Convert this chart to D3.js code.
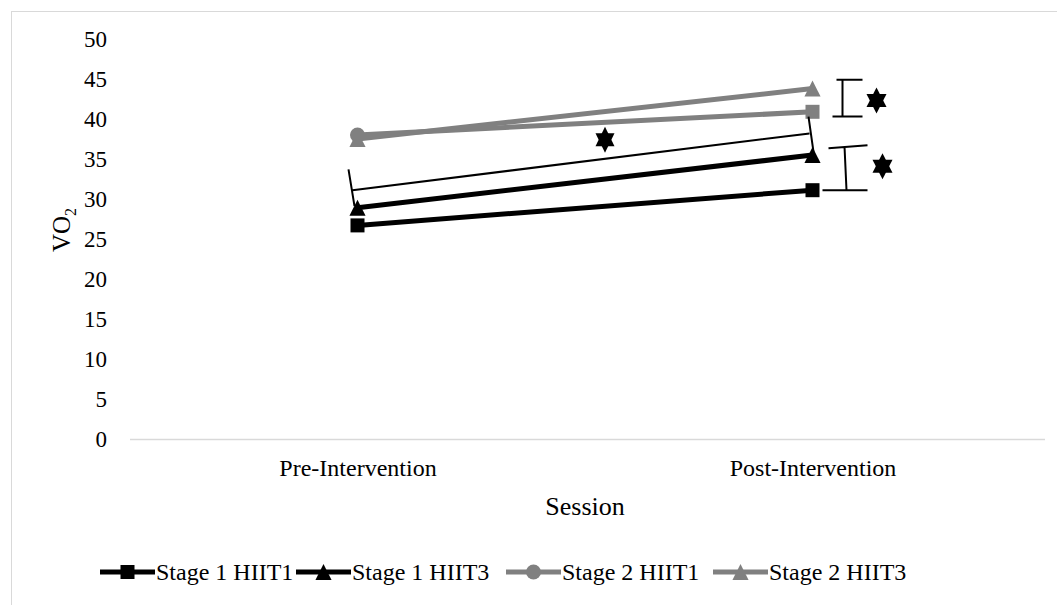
<!DOCTYPE html>
<html>
<head>
<meta charset="utf-8">
<script src="https://cdn.jsdelivr.net/npm/d3@7"></script>
<style>
  html, body { margin: 0; padding: 0; background: #fff; }
  svg { display: block; }
  svg text { font-family: "Liberation Serif", "Times New Roman", "DejaVu Serif", serif; }
</style>
</head>
<body>
<svg id="chart" width="1057" height="605"></svg>
<script>
// Sessions on the x axis
const sessions = ["Pre-Intervention", "Post-Intervention"];

// VO2 per series, one value per session
const stage1Hiit1 = [26.7, 31.1];
const stage1Hiit3 = [28.9, 35.5];
const stage2Hiit1 = [38.0, 40.9];
const stage2Hiit3 = [37.5, 43.8];

const seriesNames = ["Stage 1 HIIT1", "Stage 1 HIIT3", "Stage 2 HIIT1", "Stage 2 HIIT3"];
const seriesColors = ["#000000", "#000000", "#808080", "#808080"];
// marker shape at each session point
const seriesMarkers = [
  ["square", "square"],
  ["triangle", "triangle"],
  ["circle", "square"],
  ["triangle", "triangle"]
];

const yTicks = [0, 5, 10, 15, 20, 25, 30, 35, 40, 45, 50];

// significance bracket between stage 1 and stage 2 (VO2 units)
const preLeg = [33.7, 29.1];    // top, bottom of the left leg
const postLeg = [40.3, 35.9];   // top, bottom of the right leg
const spanLine = [31.1, 38.2];  // connecting line at pre and post
// pre/post difference brackets at the right
const rightBrackets = [[44.9, 40.3], [36.6, 31.1]];
// star positions: [x offset from post, VO2]
const starMid = 37.4;
const starsRight = [[64, 42.3], [70, 34.1]];

const series = seriesNames.map((name, i) => ({
  name,
  color: seriesColors[i],
  markers: seriesMarkers[i],
  values: [stage1Hiit1, stage1Hiit3, stage2Hiit1, stage2Hiit3][i]
}));

const svg = d3.select("#chart");
const W = 1057, H = 605;

// chart frame
svg.append("rect")
  .attr("x", 11.5).attr("y", 11.5)
  .attr("width", W + 20).attr("height", H + 20)
  .attr("fill", "none").attr("stroke", "#d9d9d9").attr("stroke-width", 1);

const plot = { left: 130, right: 1040, top: 39, bottom: 439 };

const x = d3.scalePoint().domain(sessions).range([plot.left, plot.right]).padding(0.5);
const y = d3.scaleLinear().domain([0, 50]).range([plot.bottom, plot.top]);

// y axis labels
const yAxis = svg.append("g")
  .attr("transform", `translate(${plot.left},0)`)
  .call(d3.axisLeft(y).tickValues(yTicks).tickSize(0).tickPadding(23));
yAxis.attr("font-family", null);
yAxis.select(".domain").remove();
yAxis.selectAll("text").attr("font-size", 23).attr("fill", "#000");

// x axis baseline and category labels
const xAxis = svg.append("g")
  .attr("transform", `translate(0,${plot.bottom})`)
  .call(d3.axisBottom(x).tickSize(0).tickPadding(20));
xAxis.attr("font-family", null);
xAxis.select(".domain")
  .attr("d", `M${plot.left},0.5H${plot.right + 5}`)
  .attr("stroke", "#d9d9d9").attr("stroke-width", 1.3);
xAxis.selectAll("text").attr("font-size", 24).attr("fill", "#000");

// axis titles
svg.append("text")
  .attr("x", 585).attr("y", 515)
  .attr("text-anchor", "middle").attr("font-size", 26)
  .text("Session");

const yTitle = svg.append("text")
  .attr("transform", `translate(70,230) rotate(-90)`)
  .attr("text-anchor", "middle").attr("font-size", 25);
yTitle.append("tspan").text("VO");
yTitle.append("tspan").attr("font-size", 16).attr("dy", 6).text("2");

// marker drawing
function drawMarker(g, shape, cx, cy, color, size) {
  if (shape === "square") {
    g.append("rect")
      .attr("x", cx - size / 2).attr("y", cy - size / 2)
      .attr("width", size).attr("height", size).attr("fill", color);
  } else if (shape === "circle") {
    g.append("circle").attr("cx", cx).attr("cy", cy).attr("r", size / 2 + 0.5).attr("fill", color);
  } else if (shape === "triangle") {
    const h = size * 1.0, w = size * 1.15;
    g.append("path")
      .attr("d", `M${cx},${cy - h / 2 - 1}L${cx + w / 2},${cy + h / 2 + 1}L${cx - w / 2},${cy + h / 2 + 1}Z`)
      .attr("fill", color);
  }
}

// series lines
const line = d3.line().x((d, i) => x(sessions[i])).y(d => y(d));
const seriesG = svg.append("g");
series.forEach(s => {
  seriesG.append("path")
    .datum(s.values)
    .attr("d", line)
    .attr("fill", "none")
    .attr("stroke", s.color)
    .attr("stroke-width", 5);
});
series.forEach(s => {
  s.values.forEach((v, i) => drawMarker(seriesG, s.markers[i], x(sessions[i]), y(v), s.color, 14));
});

// significance annotations
const ann = svg.append("g").attr("stroke", "#000").attr("fill", "none").attr("stroke-width", 2);
const xPre = x(sessions[0]), xPost = x(sessions[1]);
ann.append("path").attr("d",
  `M${xPre - 9},${y(preLeg[0])}L${xPre - 3},${y(preLeg[1])}` +
  `M${xPre - 5},${y(spanLine[0])}L${xPost - 3},${y(spanLine[1])}` +
  `M${xPost - 4},${y(postLeg[0])}L${xPost + 1},${y(postLeg[1])}`);

rightBrackets.forEach((b, i) => {
  const xc = xPost + 30 + i * 2;
  ann.append("path").attr("d",
    `M${xPost + 24 - i * 8},${y(b[0]) + i * 2}L${xPost + 50 + i * 5},${y(b[0]) - i * 1}` +
    `M${xc},${y(b[0])}L${xc + i * 2},${y(b[1])}` +
    `M${xPost + 20 - i * 10},${y(b[1])}L${xPost + 50 + i * 5},${y(b[1])}`);
});

// six-pointed stars, drawn as two overlapping triangles
function star(cx, cy, w, h) {
  const t = h * 0.5;
  svg.append("path").attr("fill", "#000")
    .attr("d", `M${cx},${cy - t}L${cx + w / 2},${cy + t / 2}L${cx - w / 2},${cy + t / 2}Z`);
  svg.append("path").attr("fill", "#000")
    .attr("d", `M${cx},${cy + t}L${cx + w / 2},${cy - t / 2}L${cx - w / 2},${cy - t / 2}Z`);
}
star((xPre + xPost) / 2 + 20, y(starMid), 19, 26);
starsRight.forEach(s => star(xPost + s[0], y(s[1]), 20, 26));

// legend
const legendX = [100, 296, 506, 713];
const legend = svg.append("g");
series.forEach((s, i) => {
  const lx = legendX[i], ly = 572;
  legend.append("line")
    .attr("x1", lx).attr("x2", lx + 55).attr("y1", ly).attr("y2", ly)
    .attr("stroke", s.color).attr("stroke-width", 5);
  drawMarker(legend, s.markers[0], lx + 27.5, ly, s.color, 14);
  legend.append("text")
    .attr("x", lx + 56).attr("y", ly + 8)
    .attr("font-size", 24).attr("fill", "#000")
    .text(s.name);
});
</script>
</body>
</html>
